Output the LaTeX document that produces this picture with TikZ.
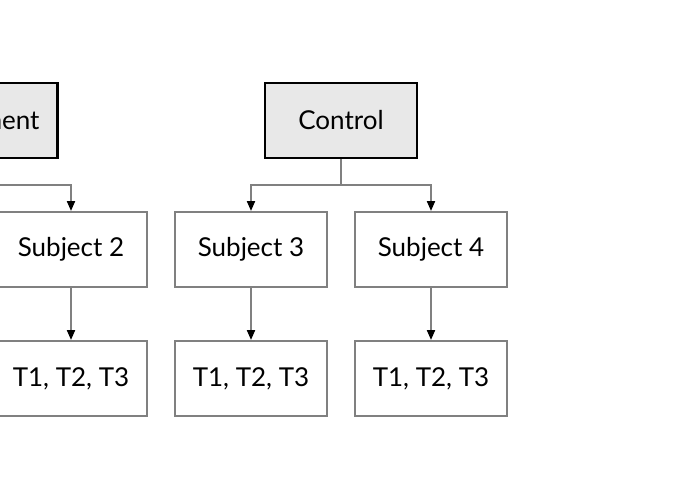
\documentclass[tikz,border=0pt]{standalone}
\usepackage{fontspec}
\setmainfont{Lato}
\usetikzlibrary{arrows.meta}
\tikzset{
	grpbox/.style={draw=black, line width=2.6pt, fill=black!9, minimum width=152pt, minimum height=75pt, inner sep=0pt},
	subjbox/.style={draw=black!50, line width=2pt, fill=white, minimum width=152pt, minimum height=75pt, inner sep=0pt},
	conn/.style={draw=black!50, line width=2pt},
	arr/.style={conn, -{Triangle[length=10pt, width=8pt, black]}}
}

\begin{document}
\begin{tikzpicture}[x=1pt, y=-1pt, font=\fontsize{26}{30}\selectfont]
			%%%%% START %%%%%
			
			\useasboundingbox (0, 0) rectangle (680, 500);
			\clip (0, 0) rectangle (680, 500);
			
			\node[grpbox] (treat) at (-18.5, 120.5) {Treatment};
			\node[grpbox] (ctrl) at (341, 120.5) {Control};
			
			\node[subjbox] (subj2) at (71, 249.5) {Subject 2};
			\node[subjbox] (subj3) at (251, 249.5) {Subject 3};
			\node[subjbox] (subj4) at (431, 249.5) {Subject 4};
			
			\node[subjbox] (tt2) at (71, 378.5) {T1, T2, T3};
			\node[subjbox] (tt3) at (251, 378.5) {T1, T2, T3};
			\node[subjbox] (tt4) at (431, 378.5) {T1, T2, T3};
			
			\draw[conn] (treat.south) -- ++(0, 26) coordinate (tj);
			\coordinate (lft) at (-109, 185);
			\draw[conn] (tj) -- (lft);
			\draw[arr] (tj) -| (subj2.north);
			
			\draw[conn] (ctrl.south) -- ++(0, 26) coordinate (cj);
			\draw[arr] (cj) -| (subj3.north);
			\draw[arr] (cj) -| (subj4.north);
			
			\draw[arr] (subj2) -- (tt2);
			\draw[arr] (subj3) -- (tt3);
			\draw[arr] (subj4) -- (tt4);
			
			%%%%% END %%%%%
		\end{tikzpicture}
\end{document}
